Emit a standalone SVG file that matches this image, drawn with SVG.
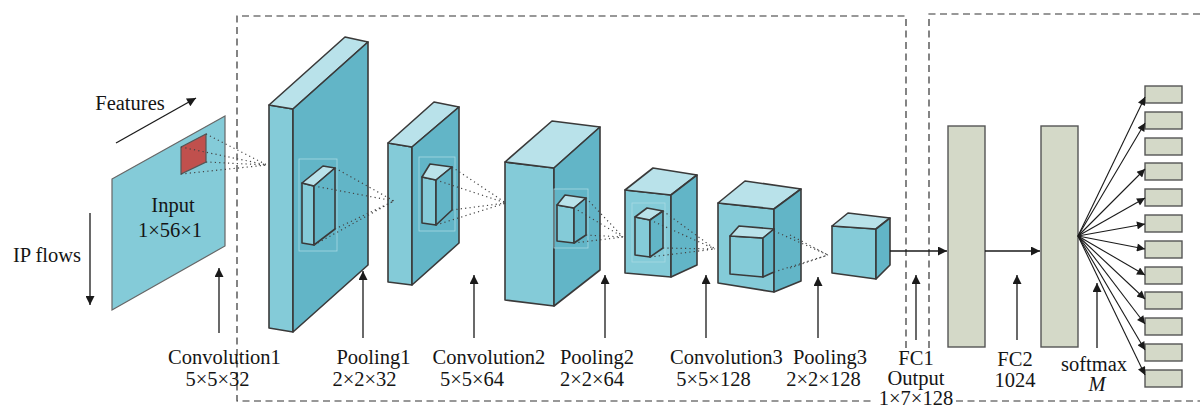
<svg xmlns="http://www.w3.org/2000/svg" width="1200" height="407" viewBox="0 0 1200 407">
  <defs>
    <marker id="ah" viewBox="0 0 10 10" refX="10" refY="5" markerWidth="11" markerHeight="9" orient="auto" markerUnits="userSpaceOnUse">
      <path d="M0,0 L10,5 L0,10 z" fill="#1a1a1a"/>
    </marker>
    <marker id="ahs" viewBox="0 0 10 10" refX="10" refY="5" markerWidth="10" markerHeight="8" orient="auto" markerUnits="userSpaceOnUse">
      <path d="M0,0 L10,5 L0,10 z" fill="#1a1a1a"/>
    </marker>
    <style>
      .lbl { font-family: "Liberation Serif", "Times New Roman", serif; font-size: 20.5px; fill: #151515; text-anchor: middle; }
      .frame { fill: none; stroke: #333; stroke-width: 1.2; stroke-dasharray: 7 4.5; }
      .front { fill: #84cbd8; stroke: #3a3a3a; stroke-width: 1.6; stroke-linejoin: round; }
      .side { fill: #62b5c7; stroke: #3a3a3a; stroke-width: 1.6; stroke-linejoin: round; }
      .top { fill: #b9e2ea; stroke: #3a3a3a; stroke-width: 1.6; stroke-linejoin: round; }
      .halo { fill: none; stroke: #a9d9e3; stroke-width: 0.8; }
      .dots { fill: none; stroke: #444; stroke-width: 1.2; stroke-dasharray: 1.2 3.2; }
      .arr { fill: none; stroke: #1a1a1a; stroke-width: 1.3; marker-end: url(#ah); }
      .fan { fill: none; stroke: #1a1a1a; stroke-width: 1.1; marker-end: url(#ahs); }
      .fc { fill: #d4d9c8; stroke: #555; stroke-width: 1.4; }
    </style>
  </defs>

  <!-- dashed stage frames -->
  <g id="frames">
    <path class="frame" d="M906,348 V16 H237 V401 H874"/>
    <path class="frame" d="M956,401 H1200"/>
    <path class="frame" d="M929,348 V14 H1200"/>
  </g>

  <!-- input plane -->
  <g id="input">
    <polygon points="112,179 225,116 225,246 112,310" fill="#84cbd8" stroke="#666" stroke-width="1.2"/>
    <polygon points="181,147 206,134 206,162 181,174" fill="#c0504d" stroke="#555" stroke-width="1.2"/>
    <text class="lbl" x="173" y="212">Input</text>
    <text class="lbl" x="170" y="237">1×56×1</text>
  </g>

  <g id="features">
    <line class="arr" x1="116" y1="143" x2="196" y2="98"/>
    <text class="lbl" x="130" y="110">Features</text>
  </g>

  <g id="ipflows">
    <line class="arr" x1="90" y1="213" x2="90" y2="305"/>
    <text class="lbl" x="47" y="262">IP flows</text>
  </g>

  <!-- convolution 1 -->
  <g id="conv1">
    <polygon class="front" points="269,105 293,109 293,332 269,328"/>
    <polygon class="top" points="269,105 345,37 368,42 293,109"/>
    <polygon class="side" points="293,109 368,42 368,265 293,332"/>
    <rect class="halo" x="299" y="159" width="38" height="92"/>
    <polygon class="front" points="302,183 314,186 314,245 302,243"/>
    <polygon class="top" points="302,183 323,166 335,168 314,186"/>
    <polygon class="side" points="314,186 335,168 335,229 314,245"/>
  </g>

  <!-- pooling 1 -->
  <g id="pool1">
    <polygon class="front" points="388,143 412,147 412,285 388,282"/>
    <polygon class="top" points="388,143 434,102 459,107 412,147"/>
    <polygon class="side" points="412,147 459,107 459,243 412,285"/>
    <rect class="halo" x="419" y="157" width="36" height="74"/>
    <polygon class="front" points="422,177 436,180 436,225 422,223"/>
    <polygon class="top" points="422,177 430,164 452,167 436,180"/>
    <polygon class="side" points="436,180 452,167 452,210 436,225"/>
  </g>

  <!-- convolution 2 -->
  <g id="conv2">
    <polygon class="front" points="505,162 554,168 554,306 505,300"/>
    <polygon class="top" points="505,162 552,121 600,127 554,168"/>
    <polygon class="side" points="554,168 600,127 600,270 554,306"/>
    <rect class="halo" x="554" y="189" width="34" height="59"/>
    <polygon class="front" points="557,205 574,208 574,243 557,241"/>
    <polygon class="top" points="557,205 565,195 586,198 574,208"/>
    <polygon class="side" points="574,208 586,198 586,235 574,243"/>
  </g>

  <!-- pooling 2 -->
  <g id="pool2">
    <polygon class="front" points="625,190 671,195 671,277 625,273"/>
    <polygon class="top" points="625,190 653,168 697,175 671,195"/>
    <polygon class="side" points="671,195 697,175 697,265 671,277"/>
    <rect class="halo" x="632" y="203" width="33" height="59"/>
    <polygon class="front" points="635,217 650,220 650,257 635,255"/>
    <polygon class="top" points="635,217 647,208 663,211 650,220"/>
    <polygon class="side" points="650,220 663,211 663,248 650,257"/>
  </g>

  <!-- convolution 3 -->
  <g id="conv3">
    <polygon class="front" points="718,203 774,209 774,292 718,283"/>
    <polygon class="top" points="718,203 745,181 801,189 774,209"/>
    <polygon class="side" points="774,209 801,189 801,281 774,292"/>
    <polygon class="front" points="730,236 763,238 763,277 730,274"/>
    <polygon class="top" points="730,236 739,226 774,229 763,238"/>
    <polygon class="side" points="763,238 774,229 774,272 763,277"/>
  </g>

  <!-- pooling 3 -->
  <g id="pool3">
    <polygon class="front" points="832,226 876,229 876,279 832,273"/>
    <polygon class="top" points="832,226 848,213 890,218 876,229"/>
    <polygon class="side" points="876,229 890,218 890,265 876,279"/>
  </g>

  <!-- fully connected layers -->
  <g id="fc1">
    <rect class="fc" x="948" y="126" width="37" height="221"/>
  </g>
  <g id="fc2">
    <rect class="fc" x="1041" y="126" width="37" height="221"/>
  </g>

  <!-- softmax outputs -->
  <g id="outputs">
    <rect class="fc" x="1145" y="86" width="37" height="17"/>
    <rect class="fc" x="1145" y="112" width="37" height="17"/>
    <rect class="fc" x="1145" y="138" width="37" height="17"/>
    <rect class="fc" x="1145" y="163" width="37" height="17"/>
    <rect class="fc" x="1145" y="189" width="37" height="17"/>
    <rect class="fc" x="1145" y="215" width="37" height="17"/>
    <rect class="fc" x="1145" y="241" width="37" height="17"/>
    <rect class="fc" x="1145" y="267" width="37" height="17"/>
    <rect class="fc" x="1145" y="292" width="37" height="17"/>
    <rect class="fc" x="1145" y="318" width="37" height="17"/>
    <rect class="fc" x="1145" y="344" width="37" height="17"/>
    <rect class="fc" x="1145" y="370" width="37" height="17"/>
  </g>

  <!-- connectors -->
  <g id="connectors">
    <!-- receptive-field projections -->
    <path class="dots" d="M206,134 L267,165 M206,162 L267,165 M181,147 L267,165 M181,174 L267,165"/>
    <path class="dots" d="M335,168 L394,201 M314,186 L394,201 M335,229 L394,201 M314,245 L394,201"/>
    <path class="dots" d="M452,167 L506,203 M436,180 L506,203 M452,210 L506,203 M436,225 L506,203"/>
    <path class="dots" d="M586,198 L623,237 M574,208 L623,237 M586,235 L623,237 M574,243 L623,237"/>
    <path class="dots" d="M663,211 L715,249 M650,220 L715,249 M663,248 L715,249 M650,257 L715,249"/>
    <path class="dots" d="M774,231 L828,255 M774,272 L828,255 M790,235 L828,255 M790,268 L828,255"/>

    <!-- forward flow -->
    <line class="arr" x1="890" y1="251" x2="947" y2="251"/>
    <line class="arr" x1="985" y1="251" x2="1040" y2="251"/>

    <!-- label pointers -->
    <line class="arr" x1="219" y1="333" x2="219" y2="268"/>
    <line class="arr" x1="363" y1="338" x2="363" y2="271"/>
    <line class="arr" x1="474" y1="338" x2="474" y2="275"/>
    <line class="arr" x1="605" y1="338" x2="605" y2="275"/>
    <line class="arr" x1="706" y1="338" x2="706" y2="275"/>
    <line class="arr" x1="818" y1="338" x2="818" y2="277"/>
    <line class="arr" x1="916" y1="340" x2="916" y2="275"/>
    <line class="arr" x1="1017" y1="340" x2="1017" y2="275"/>
    <line class="arr" x1="1097" y1="348" x2="1097" y2="283"/>

    <!-- softmax fan-out -->
    <line class="fan" x1="1078" y1="236" x2="1145" y2="97"/>
    <line class="fan" x1="1078" y1="236" x2="1145" y2="123"/>
    <line class="fan" x1="1078" y1="236" x2="1145" y2="169"/>
    <line class="fan" x1="1078" y1="236" x2="1145" y2="198"/>
    <line class="fan" x1="1078" y1="236" x2="1145" y2="224"/>
    <line class="fan" x1="1078" y1="236" x2="1145" y2="249"/>
    <line class="fan" x1="1078" y1="236" x2="1145" y2="275"/>
    <line class="fan" x1="1078" y1="236" x2="1145" y2="299"/>
    <line class="fan" x1="1078" y1="236" x2="1145" y2="324"/>
    <line class="fan" x1="1078" y1="236" x2="1145" y2="350"/>
    <line class="fan" x1="1078" y1="236" x2="1145" y2="375"/>
  </g>

  <!-- layer captions -->
  <g id="captions">
    <text class="lbl" x="224.5" y="364">Convolution1</text>
    <text class="lbl" x="217.5" y="386">5×5×32</text>
    <text class="lbl" x="373.5" y="364">Pooling1</text>
    <text class="lbl" x="364.5" y="386">2×2×32</text>
    <text class="lbl" x="489" y="364">Convolution2</text>
    <text class="lbl" x="472" y="386">5×5×64</text>
    <text class="lbl" x="597" y="364">Pooling2</text>
    <text class="lbl" x="592" y="386">2×2×64</text>
    <text class="lbl" x="726.5" y="364">Convolution3</text>
    <text class="lbl" x="713.5" y="386">5×5×128</text>
    <text class="lbl" x="830" y="364">Pooling3</text>
    <text class="lbl" x="823.5" y="386">2×2×128</text>
    <text class="lbl" x="916" y="365">FC1</text>
    <text class="lbl" x="916" y="385">Output</text>
    <text class="lbl" x="916" y="405">1×7×128</text>
    <text class="lbl" x="1015" y="366">FC2</text>
    <text class="lbl" x="1015" y="387">1024</text>
    <text class="lbl" x="1094" y="371">softmax</text>
    <text class="lbl" x="1097" y="391" font-style="italic">M</text>
  </g>
</svg>
